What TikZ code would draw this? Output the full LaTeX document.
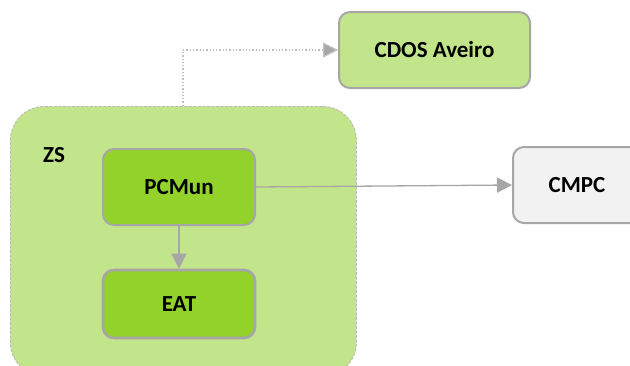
\documentclass[tikz,border=0pt]{standalone}
\usepackage{fontspec}
\setmainfont{Carlito}
\usetikzlibrary{arrows.meta}
\definecolor{lightg}{HTML}{C2E58B}
\definecolor{darkg}{HTML}{92D22B}
\definecolor{bordg}{HTML}{A6A6A6}
\definecolor{dotg}{HTML}{C0C0C0}
\definecolor{boxgray}{HTML}{F2F2F2}
\tikzset{
  box/.style={draw=bordg, line width=2pt, rounded corners=11pt, inner sep=0pt,
    font=\fontsize{23}{27}\selectfont\bfseries, text=black},
  lbl/.style={font=\fontsize{23}{27}\selectfont\bfseries, text=black},
  conn/.style={draw=bordg, line width=1.3pt, -{Triangle[length=15pt,width=15pt]}},
}
\begin{document}
\begin{tikzpicture}[x=1pt,y=-1pt]
\clip (0,0) rectangle (630,365);
\fill[white] (0,0) rectangle (630,365);
% container
\node[draw=bordg!80, dashed, dash pattern=on 3pt off 1.5pt, line width=0.8pt, fill=lightg,
  rounded corners=34pt, minimum width=346pt, minimum height=270pt, anchor=north west,
  inner sep=0pt] (zs) at (10,106) {};
\node[lbl] (zslabel) at (54,155) {ZS};
\node[box, fill=darkg, minimum width=152pt, minimum height=76pt] (pcm) at (179,187) {PCMun};
\node[box, fill=darkg, line width=2.6pt, minimum width=152pt, minimum height=68pt] (eat) at (179,304) {EAT};
\node[box, fill=lightg, minimum width=191pt, minimum height=76pt] (cdos) at (434.5,50) {CDOS Aveiro};
\node[box, fill=boxgray, minimum width=130pt, minimum height=76pt, anchor=west] (cmpc) at (512,185) {};
\node[lbl] (cmpct) at (577,185) {CMPC};
% connectors
\coordinate (up) at (183,106);
\draw[conn] (pcm.south) -- (eat.north);
\draw[conn] (pcm.east) -- (cmpc.west);
\draw[draw=dotg, line width=1.3pt, dotted, -{Triangle[length=15pt,width=15pt,fill=bordg]}]
  (up) |- (cdos.west);
\end{tikzpicture}
\end{document}
